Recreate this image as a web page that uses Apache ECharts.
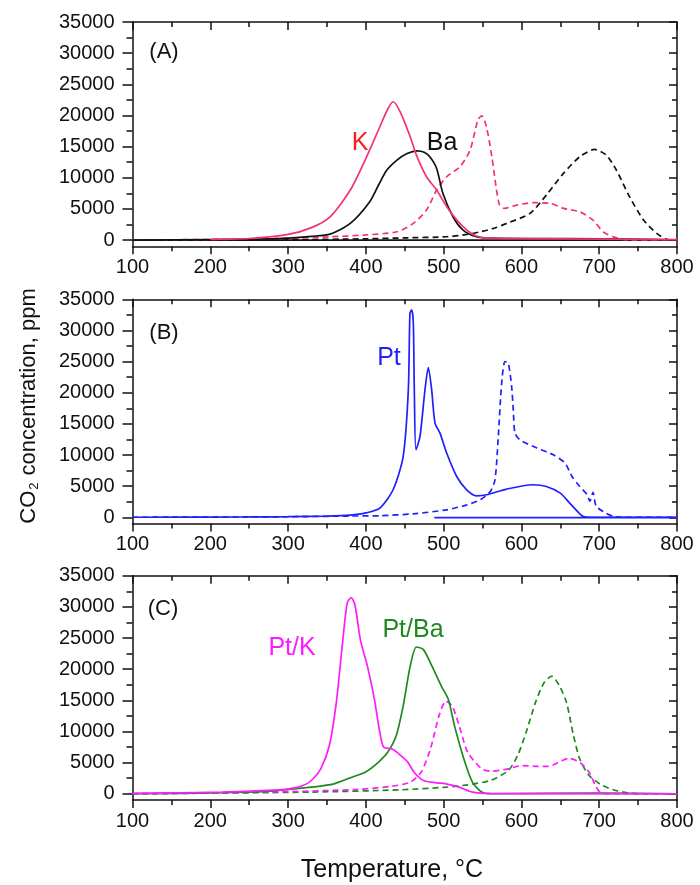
<!DOCTYPE html>
<html><head><meta charset="utf-8">
<script src="https://cdn.jsdelivr.net/npm/echarts@6/dist/echarts.min.js"></script>
<style>html,body{margin:0;padding:0;background:#fff}#c{width:700px;height:885px}</style>
</head><body><div id="c"></div>
<script>
// ---- tick values ----
const xMin = 100, xMax = 800, xStep = 100;
const yMin = -1000, yMax = 35000;
const yTickValues = [0, 5000, 10000, 15000, 20000, 25000, 30000, 35000];
const yMinorValues = [2500, 7500, 12500, 17500, 22500, 27500, 32500];

// ---- panel (A) ----
const aBase = [[100, 0], [800, 0]];
const kSolid = [[200,100],[250,250],[300,900],[330,2000],[354,3740],[380,8030],[401,13370],[418,18190],[428,21000],[435,22200],[444,20600],[457,16580],[465,13640],[478,10160],[491,8030],[504,5350],[517,3210],[530,1600],[542,640],[557,300],[600,220],[700,150],[800,60]];
const baSolid = [[100,0],[200,80],[260,150],[300,320],[330,600],[354,960],[380,2670],[405,6150],[417,9000],[427,11240],[440,12840],[453,13900],[466,14330],[475,14100],[482,13400],[491,11500],[499,7500],[512,3740],[525,1600],[542,530],[560,300],[620,250],[700,200],[760,120],[800,0]];
const kDashed = [[100,0],[250,150],[300,300],[354,530],[397,800],[440,1330],[461,2680],[478,4815],[491,8030],[504,10160],[521,11770],[534,14450],[544,19260],[549,19950],[555,18190],[562,13370],[568,8030],[572,5620],[578,5090],[594,5620],[615,6000],[637,5890],[654,5090],[675,4540],[692,3200],[705,1330],[718,530],[731,110],[745,0],[800,0]];
const baDashed = [[100,0],[300,50],[400,200],[450,350],[504,530],[530,900],[547,1330],[565,1900],[581,2680],[611,4280],[632,7220],[654,10700],[675,13370],[694,14550],[709,13640],[722,11240],[739,6950],[757,3210],[774,1070],[787,110],[800,0]];

// ---- panel (B) ----
const ptSolid = [[100,0],[250,50],[300,100],[350,200],[380,350],[400,700],[418,1470],[435,4420],[448,9760],[454.6,20470],[456.7,32780],[458.9,33310],[461,31180],[462.3,20470],[464.4,10840],[469.6,12970],[476,20470],[480.3,24050],[484.6,20470],[488.9,15120],[495.3,13520],[503.9,10310],[516.8,6550],[529.6,4415],[542.5,3450],[555.3,3610],[581,4530],[615,5220],[632,4950],[650,3880],[662,2280],[675,560],[680,100],[690,0],[800,0]];
const ptBase = [[488,-60],[800,-60]];
const ptDashed = [[100,0],[300,80],[380,200],[418,240],[461,560],[504,1200],[530,2000],[547,2810],[560,4150],[566,6020],[570,12440],[574.6,21540],[578.8,25010],[583.1,24750],[587.4,21000],[589.5,17260],[591.7,13520],[598,12440],[620,11110],[641,10030],[656,8700],[665,6550],[675,4940],[684,3700],[688,2600],[692,4000],[696,1800],[705,930],[718,130],[730,0],[800,0]];

// ---- panel (C) ----
const ptKSolid = [[100,50],[215,270],[273,530],[301,800],[319,1330],[330,2130],[342,4000],[353,7700],[362,14630],[370,24200],[376,30600],[381,31500],[386,30300],[393,24700],[402,20480],[411,15160],[418,9840],[423,7450],[434,7180],[445,6120],[454,5050],[462,3460],[474,2130],[491,1760],[503,1600],[520,1060],[537,270],[560,50],[650,20],[800,0]];
const ptBaSolid = [[100,0],[215,160],[273,370],[301,690],[330,1060],[359,1600],[382,2660],[399,3460],[416,5050],[428,6650],[439,9310],[448,14100],[457,20480],[465,23560],[474,23140],[485,20480],[497,17290],[506,15160],[514,10900],[526,5580],[537,1860],[549,270],[560,0],[700,100],[800,0]];
const ptKDashed = [[100,0],[273,270],[388,690],[434,1220],[457,1860],[471,3460],[483,7180],[494,12500],[503,14890],[511,14100],[520,10900],[531,6650],[549,3990],[560,3620],[583,3990],[600,4520],[618,4410],[635,4410],[652,5320],[661,5690],[675,5050],[687,3460],[695,1330],[701,270],[710,0],[800,0]];
const ptBaDashed = [[100,0],[330,270],[445,640],[503,1060],[531,1440],[560,2130],[583,3720],[595,6120],[606,9840],[618,14630],[629,17820],[639,18880],[649,17290],[658,14630],[667,9310],[675,5580],[687,2930],[704,1330],[721,530],[736,160],[750,0],[800,0]];

// ---- layout ----
const FONT = 'Liberation Sans, Arial, sans-serif';
const gridLeft = 132.5, gridWidth = 544.5;
const panels = [{top: 22, h: 224.3}, {top: 299.3, h: 224.2}, {top: 575.7, h: 224.3}];
const AX = {color: '#111', width: 1.5};
const plain = v => String(v);

const grid = [], xAxis = [], yAxis = [], series = [];
panels.forEach((p, i) => {
  grid.push({left: gridLeft, top: p.top, width: gridWidth, height: p.h});
  xAxis.push({gridIndex: i, type: 'value', min: xMin, max: xMax, interval: xStep, position: 'bottom',
    axisLine: {show: true, onZero: false, lineStyle: AX},
    axisTick: {show: true, inside: false, length: 8, lineStyle: AX},
    minorTick: {show: true, splitNumber: 2, length: 5, lineStyle: AX},
    splitLine: {show: false}, minorSplitLine: {show: false},
    axisLabel: {margin: 11, fontSize: 20, color: '#111', fontFamily: FONT, formatter: plain}});
  xAxis.push({gridIndex: i, type: 'value', min: xMin, max: xMax, interval: xStep, position: 'top',
    axisLine: {show: true, onZero: false, lineStyle: AX},
    axisTick: {show: true, inside: true, length: 8, lineStyle: AX},
    minorTick: {show: true, splitNumber: 2, length: 5, lineStyle: AX},
    splitLine: {show: false}, axisLabel: {show: false}});
  const yBase = {gridIndex: i, type: 'value', min: yMin, max: yMax, splitLine: {show: false}};
  yAxis.push(Object.assign({}, yBase, {position: 'left',
    axisLine: {show: true, onZero: false, lineStyle: AX},
    axisTick: {show: true, inside: false, length: 10, customValues: yTickValues, lineStyle: AX},
    axisLabel: {show: true, customValues: yTickValues, margin: 18, fontSize: 20, color: '#111', fontFamily: FONT, formatter: plain}}));
  yAxis.push(Object.assign({}, yBase, {position: 'left',
    axisLine: {show: false, onZero: false},
    axisTick: {show: true, inside: false, length: 6, customValues: yMinorValues, lineStyle: AX},
    axisLabel: {show: false}}));
  yAxis.push(Object.assign({}, yBase, {position: 'right',
    axisLine: {show: true, onZero: false, lineStyle: AX},
    axisTick: {show: true, inside: true, length: 8, customValues: yTickValues, lineStyle: AX},
    axisLabel: {show: false}}));
  yAxis.push(Object.assign({}, yBase, {position: 'right',
    axisLine: {show: false, onZero: false},
    axisTick: {show: true, inside: true, length: 5, customValues: yMinorValues, lineStyle: AX},
    axisLabel: {show: false}}));
});

function line(panel, data, color, dashed, z) {
  series.push({type: 'line', xAxisIndex: panel * 2, yAxisIndex: panel * 4, data: data,
    showSymbol: false, symbol: 'none', smooth: 0.25, z: z || 2, silent: true,
    lineStyle: {color: color, width: 1.7, type: dashed ? [6, 4] : 'solid'}});
}
const PINK = '#f5307a', BLACK = '#111111', BLUE = '#1f1fff', MAG = '#ff1aff', GREEN = '#1e8a1e';
line(0, aBase, BLACK, false, 1);
line(0, baDashed, BLACK, true);
line(0, kDashed, PINK, true);
line(0, baSolid, BLACK, false);
line(0, kSolid, PINK, false, 3);
line(1, ptBase, BLUE, false);
line(1, ptDashed, BLUE, true);
line(1, ptSolid, BLUE, false, 3);
line(2, ptBaDashed, GREEN, true);
line(2, ptKDashed, MAG, true);
line(2, ptBaSolid, GREEN, false, 3);
line(2, ptKSolid, MAG, false, 3);

function txt(x, y, text, color, size) {
  return {type: 'text', x: x, y: y, z: 10, style: {text: text, fill: color, font: size + 'px ' + FONT, textAlign: 'center', textVerticalAlign: 'middle'}};
}
const graphic = [
  txt(164, 52, '(A)', '#111', 22),
  txt(164, 333, '(B)', '#111', 22),
  txt(163, 609, '(C)', '#111', 22),
  txt(360, 143, 'K', '#ff1a1a', 25),
  txt(442, 143, 'Ba', '#111', 25),
  txt(389, 358, 'Pt', BLUE, 25),
  txt(292, 648, 'Pt/K', MAG, 25),
  txt(413, 630, 'Pt/Ba', GREEN, 25),
  txt(392, 870, 'Temperature, °C', '#111', 25),
  {type: 'text', x: 29, y: 406, rotation: Math.PI / 2, z: 10,
   style: {text: 'CO{s|2} concentration, ppm', fill: '#111', font: '22px ' + FONT,
     textAlign: 'center', textVerticalAlign: 'middle',
     rich: {s: {fontSize: 13, fontFamily: FONT, fill: '#111', padding: [10, 1, 0, 1]}}}}
];

const chart = echarts.init(document.getElementById('c'), null, {renderer: 'canvas'});
chart.setOption({animation: false, backgroundColor: '#fff', grid, xAxis, yAxis, series, graphic});
</script>
</body></html>
